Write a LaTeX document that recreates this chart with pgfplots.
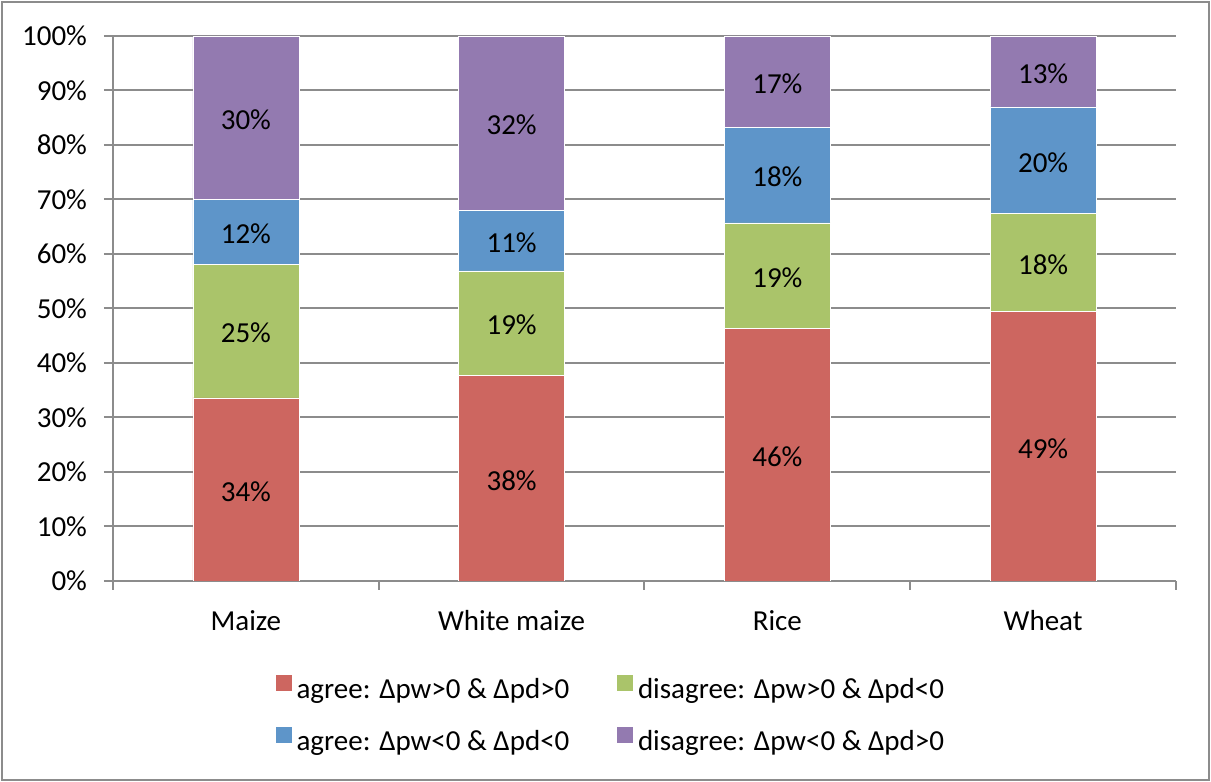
\documentclass[border=0pt]{standalone}
\usepackage{fontspec}
\setmainfont{Carlito}
\usepackage{pgfplots}
\pgfplotsset{compat=1.18}
\usepackage{pgfplotstable}
\definecolor{cred}{RGB}{205,102,96}
\definecolor{cgreen}{RGB}{170,196,106}
\definecolor{cblue}{RGB}{94,149,201}
\definecolor{cpurple}{RGB}{147,122,176}
\definecolor{cgrid}{RGB}{140,140,140}
\pgfplotstableread{
x agreepos disagreepos agreeneg disagreeneg la lb lc ld
0 33.6 24.5 11.9 30.0 34 25 12 30
1 37.7 19.2 11.1 32.0 38 19 11 32
2 46.4 19.3 17.6 16.7 46 19 18 17
3 49.4 18.0 19.6 13.0 49 18 20 13
}\data
\newcommand{\f}{\fontsize{14.5}{17}\selectfont}
\begin{document}
\begin{tikzpicture}
\useasboundingbox (0,0) rectangle (605.5pt,391pt);
\draw[cgrid, line width=0.6pt] (1pt,1pt) rectangle (604.5pt,390pt);
\begin{axis}[
  at={(56.5pt,100.5pt)}, anchor=south west,
  scale only axis, width=531.5pt, height=272.5pt,
  ybar stacked, bar width=53pt,
  xmin=-0.5, xmax=3.5, ymin=0, ymax=100,
  xtick={-0.5,0.5,1.5,2.5,3.5}, xticklabels={,,,,,},
  extra x ticks={0,1,2,3},
  extra x tick labels={Maize,White maize,Rice,Wheat},
  extra x tick style={major tick length=0pt},
  ytick={0,10,...,100},
  yticklabel={\pgfmathprintnumber{\tick}\%},
  /pgf/number format/assume math mode=true,
  axis x line*=bottom, axis y line*=left,
  axis line style={cgrid, line width=1pt, -},
  ymajorgrids, grid style={cgrid, line width=1pt},
  tick align=outside,
  tick style={cgrid, line width=1pt},
  major tick length=4.5pt,
  tick label style={font=\f, text=black},
  yticklabel style={xshift=-5pt},
  xticklabel style={yshift=-11pt},
  legend columns=2,
  legend cell align=left,
  legend style={at={(0.469,-0.247)}, anchor=center, draw=none, fill=none,
    font=\f, row sep=10.5pt,
    /tikz/every even column/.append style={column sep=21.5pt}},
  legend image code/.code={\fill[#1] (0pt,-1pt) rectangle (8.5pt,7.5pt);},
  nodes near coords={\pgfplotspointmeta\%},
  point meta=explicit symbolic,
  every node near coord/.style={anchor=center, yshift=-1pt, font=\f, text=black},
]
\addplot[fill=cred, draw=white, line width=0.3pt] table[x=x, y=agreepos, meta=la]{\data};
\addplot[fill=cgreen, draw=white, line width=0.3pt] table[x=x, y=disagreepos, meta=lb]{\data};
\addplot[fill=cblue, draw=white, line width=0.3pt] table[x=x, y=agreeneg, meta=lc]{\data};
\addplot[fill=cpurple, draw=white, line width=0.3pt] table[x=x, y=disagreeneg, meta=ld]{\data};
\legend{agree: Δpw>0 \& Δpd>0, disagree: Δpw>0 \& Δpd<0, agree: Δpw<0 \& Δpd<0, disagree: Δpw<0 \& Δpd>0}
\end{axis}
\end{tikzpicture}
\end{document}
